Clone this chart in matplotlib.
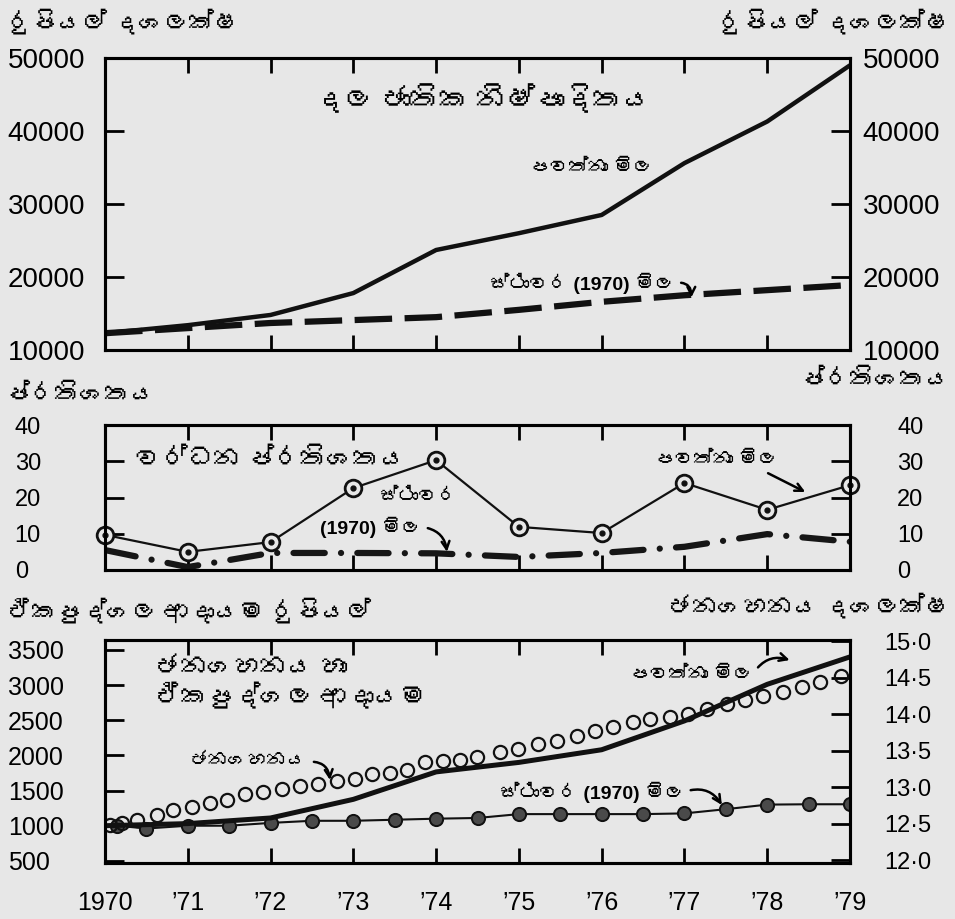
import matplotlib
matplotlib.use('Agg')
import matplotlib.pyplot as plt
from matplotlib import font_manager
from matplotlib.ft2font import FT2Font

# ---- data ----
years = [1970, 1971, 1972, 1973, 1974, 1975, 1976, 1977, 1978, 1979]
year_labels = ['1970', '’71', '’72', '’73', '’74', '’75', '’76', '’77', '’78', '’79']

# GNP, Rs million
gnp_current = [12300, 13400, 14800, 17800, 23700, 26000, 28500, 35600, 41300, 49000]
gnp_constant = [12300, 13000, 13700, 14100, 14500, 15500, 16600, 17500, 18200, 18900]

# growth rate, percent
growth_current = [9.7, 5.0, 7.7, 22.6, 30.3, 11.9, 10.2, 24.0, 16.6, 23.4]
growth_constant = [5.5, 0.8, 4.7, 4.7, 4.6, 3.6, 4.7, 6.4, 9.9, 7.8]

# per capita income, Rs
percap_current = [1000, 1030, 1110, 1375, 1765, 1900, 2080, 2490, 3010, 3400]
percap_const_years = [1970.0, 1970.15, 1970.5, 1971.0, 1971.5, 1972.0, 1972.5, 1973.0, 1973.5,
                      1974.0, 1974.5, 1975.0, 1975.5, 1976.0, 1976.5, 1977.0, 1977.5,
                      1978.0, 1978.5, 1979.0]
percap_constant = [1000, 1000, 960, 1000, 1000, 1040, 1070, 1070, 1085, 1100, 1110,
                   1165, 1165, 1165, 1165, 1175, 1235, 1300, 1305, 1305]

# population, million
pop_years = [1970.06, 1970.21, 1970.39, 1970.63, 1970.82, 1971.05, 1971.27, 1971.47, 1971.69,
             1971.91, 1972.14, 1972.36, 1972.57, 1972.80, 1973.02, 1973.22, 1973.44, 1973.65,
             1973.86, 1974.08, 1974.29, 1974.49, 1974.77, 1974.99, 1975.23, 1975.46, 1975.70,
             1975.92, 1976.14, 1976.38, 1976.58, 1976.82, 1977.04, 1977.27, 1977.51, 1977.73,
             1977.95, 1978.19, 1978.42, 1978.64, 1978.89]
population = [12.48, 12.51, 12.55, 12.62, 12.69, 12.73, 12.79, 12.83, 12.90, 12.94, 12.97,
              13.01, 13.04, 13.08, 13.11, 13.18, 13.20, 13.24, 13.34, 13.36, 13.38, 13.41,
              13.48, 13.52, 13.59, 13.63, 13.70, 13.77, 13.83, 13.89, 13.94, 13.96, 14.00,
              14.07, 14.14, 14.19, 14.25, 14.31, 14.38, 14.45, 14.52]

gnp_ticks = [10000, 20000, 30000, 40000, 50000]
pct_ticks = [0, 10, 20, 30, 40]
pc_ticks = [500, 1000, 1500, 2000, 2500, 3000, 3500]
pop_ticks = [12.0, 12.5, 13.0, 13.5, 14.0, 14.5, 15.0]
pop_labels = ['12·0', '12·5', '13·0', '13·5', '14·0', '14·5', '15·0']


# look for any installed font that has Sinhala glyphs
def find_sinhala_font():
    for f in font_manager.fontManager.ttflist:
        if 'CJK' in f.name:
            continue
        try:
            if 0x0DA2 in FT2Font(f.fname).get_charmap():
                return f.name
        except Exception:
            pass
    return None


sin_font = find_sinhala_font()
sin_family = ['Liberation Sans', sin_font, 'DejaVu Sans'] if sin_font else ['Liberation Sans', 'DejaVu Sans']
num_family = ['Liberation Sans', 'DejaVu Sans']

plt.rcParams['font.family'] = num_family
paper = '#e7e7e7'
W, H = 955, 919
fig = plt.figure(figsize=(9.55, 9.19), dpi=100, facecolor=paper)


def box(top, bottom):
    return [105 / W, 1 - bottom / H, 745 / W, (bottom - top) / H]


ax1 = fig.add_axes(box(58, 350))
ax2 = fig.add_axes(box(425, 570))
ax3 = fig.add_axes(box(640, 863))


def style(ax, ylim, ticks, labels, size, lpad, show_x=False):
    ax.set_facecolor(paper)
    ax.set_xlim(1970, 1979)
    ax.set_xticks(years)
    ax.set_ylim(*ylim)
    ax.set_yticks(ticks)
    ax.set_yticklabels(labels, fontsize=size)
    for s in ax.spines.values():
        s.set_linewidth(2.2)
    ax.tick_params(axis='x', direction='in', length=11, width=2, top=True, bottom=True,
                   labelbottom=show_x, labelsize=18, pad=20)
    ax.tick_params(axis='y', direction='in', length=14, width=2, right=False, pad=lpad)
    for t in ax.get_yticklabels():
        t.set_horizontalalignment('left')
    if show_x:
        ax.set_xticklabels(year_labels)


def twin(ax, ylim, ticks, labels, size, rpad):
    tw = ax.twinx()
    tw.set_ylim(*ylim)
    tw.set_yticks(ticks)
    tw.set_yticklabels(labels, fontsize=size)
    tw.tick_params(axis='y', direction='in', length=14, width=2, pad=rpad)
    for s in tw.spines.values():
        s.set_linewidth(2.2)
    return tw


def note(ax, text, tip, at, rad=-0.5, relpos=(1.0, 0.5), size=14):
    ax.annotate(text, xy=tip, xytext=at, xycoords='axes fraction', textcoords='axes fraction',
                fontsize=size, family=sin_family, fontweight='bold', va='center', ha='left',
                arrowprops=dict(arrowstyle='->', lw=1.8, color='k', shrinkA=3, shrinkB=0,
                                relpos=relpos, connectionstyle='arc3,rad=%s' % rad))


# ---- top: GNP ----
style(ax1, (10000, 50000), gnp_ticks, [str(v) for v in gnp_ticks], 20, 70)
twin(ax1, (10000, 50000), gnp_ticks, [str(v) for v in gnp_ticks], 20, 9)
ax1.plot(years, gnp_current, color='#111111', lw=3.2, solid_capstyle='butt')
ax1.plot(years, gnp_constant, color='#111111', lw=4.5, linestyle=(0, (6, 2)))

ax1.text(0.282, 0.856, 'දල ජාතික නිෂ්පාදිතය', transform=ax1.transAxes, fontsize=21,
         family=sin_family, fontweight='bold', va='center', ha='left')
ax1.text(0.570, 0.623, 'පවත්නා මිල', transform=ax1.transAxes, fontsize=14,
         family=sin_family, fontweight='bold', va='center', ha='left')
note(ax1, 'ස්ථාවර (1970) මිල', (0.787, 0.18), (0.517, 0.229), rad=-0.6)

# ---- middle: growth rate ----
style(ax2, (0, 40), pct_ticks, [str(v) for v in pct_ticks], 17, 65)
twin(ax2, (0, 40), pct_ticks, [str(v) for v in pct_ticks], 17, 34)
ax2.plot(years, growth_constant, color='#161616', lw=4.5, linestyle=(0, (5, 2.6, 0.01, 2.6)),
         dash_capstyle='round')
ax2.plot(years, growth_current, color='#111111', lw=1.6, marker='o', ms=12,
         mfc=paper, mec='#111111', mew=2, clip_on=False, zorder=4)
ax2.plot(years, growth_current, linestyle='none', marker='o', ms=3.5, color='#111111',
         clip_on=False, zorder=5)

ax2.text(0.040, 0.759, 'වර්ධන ප්රතිශතය', transform=ax2.transAxes, fontsize=19,
         family=sin_family, va='center', ha='left')
ax2.text(0.369, 0.497, 'ස්ථාවර', transform=ax2.transAxes, fontsize=14,
         family=sin_family, fontweight='bold', va='center', ha='left')
note(ax2, '(1970) මිල', (0.459, 0.125), (0.289, 0.297), rad=-0.4)
note(ax2, 'පවත්නා මිල', (0.940, 0.538), (0.738, 0.759), rad=0, relpos=(0.85, 0.0))

# ---- bottom: population and per capita income ----
style(ax3, (470, 3640), pc_ticks, [str(v) for v in pc_ticks], 18, 70, show_x=True)
tw3 = twin(ax3, (11.96, 15.02), pop_ticks, pop_labels, 17, 25)
ax3.plot(years, percap_current, color='#111111', lw=3.6, zorder=3)
ax3.plot(percap_const_years, percap_constant, color='#111111', lw=1.5, marker='o', ms=9.5,
         mfc='#4a4a4a', mec='#111111', mew=1.4, markevery=list(range(1, len(percap_constant))),
         zorder=2)
tw3.plot(pop_years, population, linestyle='none', marker='o', ms=9.5, mfc='none',
         mec='#111111', mew=1.6)

ax3.text(0.067, 0.874, 'ජනගහනය හා', transform=ax3.transAxes, fontsize=19,
         family=sin_family, fontweight='bold', va='center', ha='left')
ax3.text(0.067, 0.744, 'ඒකපුද්ගල ආදායම', transform=ax3.transAxes, fontsize=19,
         family=sin_family, fontweight='bold', va='center', ha='left')
note(ax3, 'ජනගහනය', (0.302, 0.372), (0.114, 0.453))
note(ax3, 'පවත්නා මිල', (0.919, 0.910), (0.705, 0.843), rad=-0.4)
note(ax3, 'ස්ථාවර (1970) මිල', (0.828, 0.260), (0.530, 0.318), rad=-0.4)

# ---- axis titles outside the boxes ----
def side_title(x, y, text, ha):
    fig.text(x / W, 1 - y / H, text, fontsize=18, family=sin_family, fontweight='bold',
             va='center', ha=ha)


side_title(7, 23, 'රුපියල් දශලක්ෂ', 'left')
side_title(950, 23, 'රුපියල් දශලක්ෂ', 'right')
side_title(5, 395, 'ප්රතිශතය', 'left')
side_title(950, 380, 'ප්රතිශතය', 'right')
side_title(7, 612, 'ඒකපුද්ගල ආදායම රුපියල්', 'left')
side_title(950, 607, 'ජනගහනය දශලක්ෂ', 'right')

fig.savefig('out.png', dpi=100, facecolor=paper)
